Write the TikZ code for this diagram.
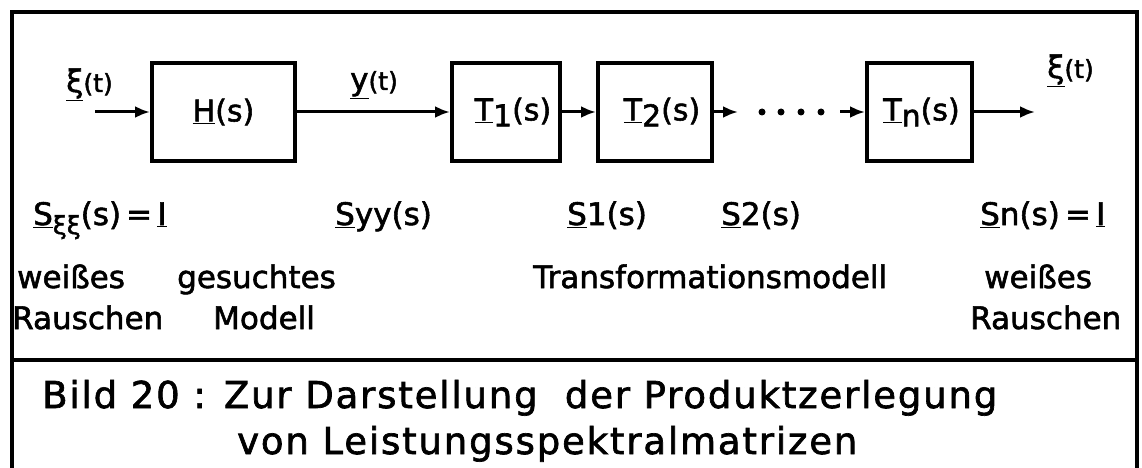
\documentclass[tikz,border=0pt]{standalone}
\usepackage{fontspec}
\setmainfont{DejaVu Sans}
\newfontfamily\plot{DejaVu Sans}[FakeBold=1.8]
\newfontfamily\plotweit{DejaVu Sans}[FakeBold=1.8,LetterSpace=5]
\usetikzlibrary{arrows.meta}

\newcommand\klein{\fontsize{25}{25}\selectfont}
\tikzstyle{block} = [draw, line width=4pt, inner sep=0pt, minimum height=98pt, font=\plot\fontsize{30}{32}\selectfont]
\tikzstyle{lbl} = [inner sep=0pt, anchor=base west, font=\plot\fontsize{31}{33}\selectfont]
\tikzstyle{titel} = [inner sep=0pt, anchor=base west, font=\plotweit\fontsize{37}{38}\selectfont]
\tikzstyle{sig} = [line width=3pt, -{Latex[length=15pt,width=12pt]}]
\tikzstyle{rahmen} = [line width=4.5pt]
\tikzstyle{punkt} = [circle, fill, inner sep=0pt, minimum size=7pt]

\begin{document}
\begin{tikzpicture}[x=1pt,y=-1pt]
\useasboundingbox (0,0) rectangle (1142,468);
%rahmen
\draw[rahmen] (12,470) -- (12,12) -- (1137,12) -- (1137,470);
\draw[rahmen] (12,360) -- (1137,360);
%begin bloecke
\node[block, minimum width=143pt] (H) at (223.5,112) {\underline{H}(s)};
\node[block, minimum width=108pt] (T1) at (506,112) {\hspace{14pt}\underline{T}\raisebox{-6pt}{1}(s)};
\node[block, minimum width=114pt] (T2) at (655,112) {\hspace{14pt}\underline{T}\raisebox{-6pt}{2}(s)};
\node[block, minimum width=105pt] (Tn) at (919.5,112) {\hspace{4pt}\underline{T}\raisebox{-6pt}{n}(s)};
%end bloecke
%begin pfeile
\coordinate (ein) at (95,112);
\coordinate (d1) at (738,112);
\coordinate (d2) at (840,112);
\coordinate (aus) at (1035,112);
\draw[sig] (ein) -- (H);
\draw[sig] (H) -- (T1);
\draw[sig] (T1) -- (T2);
\draw[sig] (T2) -- (d1);
\foreach \x in {762,781,801,821}
    \node[punkt] (p\x) at (\x,112) {};
\draw[sig] (d2) -- (Tn);
\draw[sig] (Tn) -- (aus);
%end pfeile
%begin signale
\node[lbl] (xiein) at (66,92) {\underline{ξ}{\klein(t)}};
\node[lbl] (yt) at (350,90) {\underline{y}{\klein(t)}};
\node[lbl] (xiaus) at (1047,78) {\underline{ξ}{\klein(t)}};
%end signale
%begin spektren
\node[lbl] (sxx) at (33,225) {\underline{S}\raisebox{-9pt}{\klein ξξ}(s)\,=\,\underline{I}};
\node[lbl] (syy) at (335,225) {\underline{S}yy(s)};
\node[lbl] (s1) at (567,225) {\underline{S}1(s)};
\node[lbl] (s2) at (721,225) {\underline{S}2(s)};
\node[lbl] (sn) at (980,225) {\underline{S}n(s)\,=\,\underline{I}};
%end spektren
%begin beschriftung
\node[lbl] (w1) at (17,288) {weißes};
\node[lbl] (ges) at (177,288) {gesuchtes};
\node[lbl] (tm) at (533,288) {Transformationsmodell};
\node[lbl] (w2) at (984,288) {weißes};
\node[lbl] (r1) at (12,329) {Rauschen};
\node[lbl] (mod) at (213,329) {Modell};
\node[lbl] (r2) at (970,329) {Rauschen};
%end beschriftung
%begin bildtitel
\node[titel] (bild1) at (42,408) {Bild 20 : Zur Darstellung\ \ der Produktzerlegung};
\node[titel] (bild2) at (237,454) {von Leistungsspektralmatrizen};
%end bildtitel
\end{tikzpicture}
\end{document}
